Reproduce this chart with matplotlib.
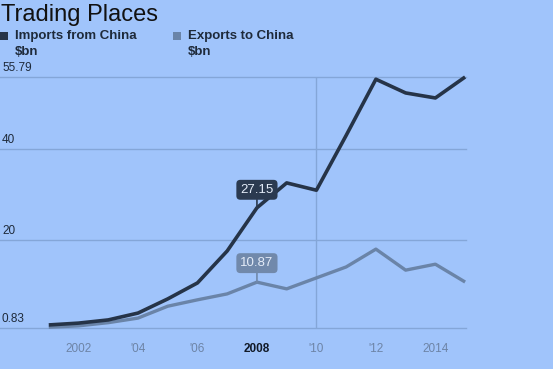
import matplotlib
matplotlib.use('Agg')
import matplotlib.pyplot as plt

plt.rcParams['font.family'] = ['Liberation Sans', 'DejaVu Sans']

years = list(range(2001, 2016))
imports = [1.5, 1.9, 2.6, 4.1, 7.2, 10.7, 17.7, 27.15, 32.6, 31.0, 43.0, 55.3, 52.3, 51.2, 55.79]
exports = [1.0, 1.3, 2.0, 3.0, 5.6, 7.0, 8.3, 10.87, 9.4, 11.8, 14.2, 18.1, 13.5, 14.8, 10.9]
ytick_vals = [0.83, 20, 40, 55.79]
ytick_labels = ['0.83', '20', '40', '55.79']
xtick_years = [2002, 2004, 2006, 2008, 2010, 2012, 2014]
xtick_labels = ['2002', "'04", "'06", '2008', "'10", "'12", '2014']
highlight_year = 2008

bg = '#a0c4fb'
imp_col = '#263448'
exp_col = '#6a84a8'
grid_col = '#84a6d8'

W, H = 553, 369
fig = plt.figure(figsize=(W / 100, H / 100), dpi=100, facecolor=bg)
ax = fig.add_axes([0, 1 - 328 / H, 466 / W, 251 / H])
ax.set_facecolor(bg)
ax.set_xlim(1999.36, 2015.03)
ax.set_ylim(0.83, 55.79)
for s in ax.spines.values():
    s.set_visible(False)
ax.set_xticks([])
ax.set_yticks([])

# gridlines with labels sitting just above them
for v, lab in zip(ytick_vals, ytick_labels):
    ax.axhline(v, color=grid_col, lw=1, zorder=1, clip_on=False)
    ax.annotate(lab, xy=(0, v), xycoords=('axes fraction', 'data'),
                xytext=(2, 3), textcoords='offset pixels', ha='left', va='bottom',
                fontsize=8.5, color='#1e2a3a')
ax.axvline(2010, color=grid_col, lw=1, zorder=1)

ax.plot(years, exports, color=exp_col, lw=2.4, zorder=3, clip_on=False, solid_capstyle='butt')
ax.plot(years, imports, color=imp_col, lw=2.6, zorder=4, clip_on=False, solid_capstyle='butt')

# value boxes for the highlighted year
i = years.index(highlight_year)
for val, col, off in [(imports[i], '#2b3a50', 18), (exports[i], '#7189ab', 19)]:
    ax.annotate('%.2f' % val, xy=(highlight_year, val), xytext=(0, off),
                textcoords='offset pixels', ha='center', va='center',
                fontsize=9.5, color='#e4ecf8', zorder=6,
                bbox=dict(boxstyle='round,pad=0.3,rounding_size=0.3', fc=col, ec='none'),
                arrowprops=dict(arrowstyle='-', color=col, lw=1.2, shrinkA=0, shrinkB=0))

for yr, lab in zip(xtick_years, xtick_labels):
    hl = yr == highlight_year
    ax.annotate(lab, xy=(yr, 0), xycoords=('data', 'axes fraction'),
                xytext=(0, -21), textcoords='offset pixels', ha='center', va='center',
                fontsize=8.5, color='#111a28' if hl else '#6d84a6',
                fontweight='bold' if hl else 'normal')

fig.text(1 / W, 1 - 15 / H, 'Trading Places', fontsize=17, color='#111111',
         ha='left', va='center')
for x0, col, name in [(0, imp_col, 'Imports from China'), (173, exp_col, 'Exports to China')]:
    fig.patches.append(plt.Rectangle((x0 / W, 1 - 40 / H), 8 / W, 8 / H,
                                     transform=fig.transFigure, fc=col, ec='none'))
    fig.text((x0 + 15) / W, 1 - 36 / H, name, fontsize=9.5, fontweight='bold',
             color='#1e2a3a', ha='left', va='center')
    fig.text((x0 + 15) / W, 1 - 52 / H, '$bn', fontsize=9.5, fontweight='bold',
             color='#1e2a3a', ha='left', va='center')

fig.savefig('out.png', dpi=100, facecolor=bg)
